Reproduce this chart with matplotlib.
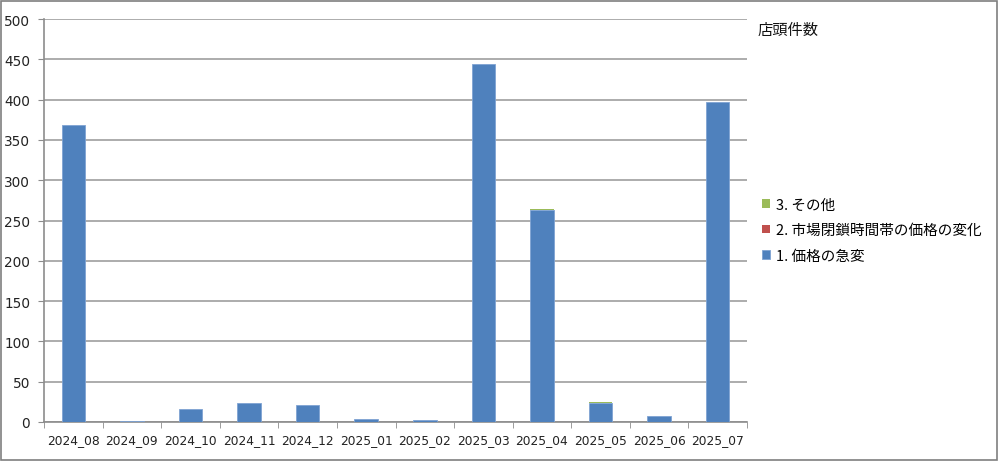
import matplotlib
matplotlib.use("Agg")
import matplotlib.pyplot as plt
from matplotlib.patches import Rectangle
import numpy as np

plt.rcParams['font.family'] = ['Noto Sans CJK JP', 'DejaVu Sans']

categories = ["2024_08", "2024_09", "2024_10", "2024_11", "2024_12", "2025_01",
              "2025_02", "2025_03", "2025_04", "2025_05", "2025_06", "2025_07"]
s1_price_jump = [369, 1, 16, 23, 21, 4, 3, 444, 263, 23, 8, 397]
s2_market_closed = [0, 0, 0, 0, 0, 0, 0, 0, 0, 0, 0, 0]
s3_other = [0, 0, 0, 0, 0, 0, 0, 0, 1, 2, 0, 0]
series_names = ["1. 価格の急変", "2. 市場閉鎖時間帯の価格の変化", "3. その他"]
legend_title = "店頭件数"
colors = ["#4F81BD", "#C0504D", "#9BBB59"]

W, H = 1000, 464
fig = plt.figure(figsize=(W / 100, H / 100), dpi=100)
ax = fig.add_axes([44 / W, 1 - 423 / H, (747 - 44) / W, (423 - 20) / H])

x = np.arange(len(categories))
b1 = np.array(s1_price_jump)
b2 = np.array(s2_market_closed)
b3 = np.array(s3_other)
bw = 0.4
h1 = ax.bar(x, b1, width=bw, color=colors[0], edgecolor="#7FA3D3", linewidth=0.6, zorder=3)
h2 = ax.bar(x, b2, width=bw, bottom=b1, color=colors[1], linewidth=0, zorder=3)
h3 = ax.bar(x, b3, width=bw, bottom=b1 + b2, color=colors[2], linewidth=0, zorder=3)

ax.set_xlim(-0.5, len(categories) - 0.5)
ax.set_ylim(0, 500)
ax.set_yticks(np.arange(0, 501, 50))
ax.yaxis.grid(True, color="#A6A6A6", linewidth=1.3, zorder=0)
ax.set_axisbelow(True)

ax.set_xticks(x)
ax.set_xticklabels(categories, fontsize=8.8, family=['DejaVu Sans'], color="#222222")
ax.set_xticks(np.arange(-0.5, len(categories), 1), minor=True)
ax.tick_params(axis='x', which='major', length=0, pad=8)
ax.tick_params(axis='x', which='minor', length=4, color="#8C8C8C", direction='out')
ax.tick_params(axis='y', length=4, color="#8C8C8C", direction='out', labelsize=9.8, pad=6,
               labelcolor="#222222")
for lbl in ax.get_yticklabels():
    lbl.set_family(['DejaVu Sans'])

for sp in ["top", "right"]:
    ax.spines[sp].set_visible(False)
ax.spines["left"].set_color("#8C8C8C")
ax.spines["bottom"].set_color("#8C8C8C")
ax.spines["left"].set_linewidth(1.2)
ax.spines["bottom"].set_linewidth(1.2)

fig.text(758 / W, 1 - 30 / H, legend_title, fontsize=11, va='center', ha='left', color="#111111")

leg = fig.legend([h3, h2, h1], [series_names[2], series_names[1], series_names[0]],
                 loc='upper left', bbox_to_anchor=(756 / W, 1 - 193 / H), frameon=False,
                 fontsize=10.5, handlelength=0.55, handleheight=0.55, handletextpad=0.45,
                 labelspacing=0.78, borderaxespad=0)

fig.patches.append(Rectangle((1 / W, 3 / H), (W - 4) / W, (H - 5) / H,
                             transform=fig.transFigure, fill=False,
                             edgecolor="#7F7F7F", linewidth=1.2))

fig.savefig("out.png", dpi=100)
